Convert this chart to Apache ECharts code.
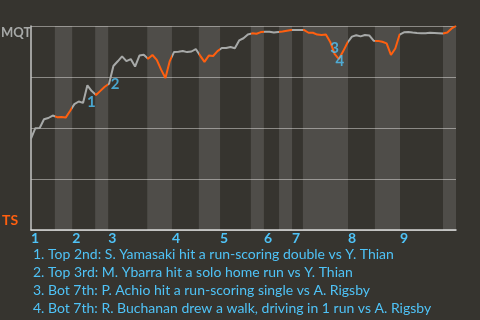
<!DOCTYPE html>
<html><head><meta charset="utf-8">
<script src="https://cdn.jsdelivr.net/npm/echarts@6/dist/echarts.min.js"></script>
<style>html,body{margin:0;padding:0;background:#36342f}#c{width:480px;height:320px}</style>
</head><body><div id="c"></div>
<script>
// Win probability for MQT (%) at each plate appearance
const winProb = [44.8, 49.9, 50.0, 54.3, 54.9, 56.1, 55.3, 55.4, 55.1, 58.3,
  61.7, 63.0, 62.3, 70.9, 68.1, 66.2, 68.2, 70.2, 71.7, 80.4,
  82.7, 85.1, 82.8, 83.8, 80.1, 85.5, 85.9, 84.0, 85.8, 83.4,
  78.6, 74.5, 82.8, 87.3, 87.4, 87.7, 87.2, 87.5, 88.7, 85.5,
  82.4, 85.5, 85.3, 87.7, 89.2, 89.2, 89.7, 89.1, 92.9, 94.0,
  95.8, 96.4, 96.2, 97.0, 97.2, 97.2, 96.8, 97.1, 97.3, 97.7,
  98.0, 98.0, 98.0, 98.0, 96.7, 96.7, 95.8, 95.6, 95.8, 92.2,
  86.3, 83.8, 87.7, 91.9, 94.8, 95.5, 94.9, 95.6, 95.4, 92.8,
  92.7, 92.3, 91.5, 85.8, 89.0, 95.8, 96.9, 97.1, 96.8, 96.6,
  96.5, 96.5, 96.7, 96.6, 96.5, 96.3, 96.8, 98.8, 100];
// Bottom half-innings (TS batting): [start, end] in plate-appearance units
const bottomHalves = [[5.5, 9.5], [14.8, 17.8], [26.8, 32.5], [38.7, 43.6], [50.7, 53.7],
  [57.2, 60.2], [62.7, 73.1], [79.3, 85.1], [95.0, 98]];
// Start of each inning
const inningStarts = [0, 9.5, 17.8, 32.5, 43.6, 53.7, 60.2, 73.1, 85.1];
const inningLabels = ['1', '2', '3', '4', '5', '6', '7', '8', '9'];
// Key events
const eventIndex = [13, 18, 70, 71];
const eventLabels = ['1', '2', '3', '4'];
const eventNotes = [
  '1. Top 2nd: S. Yamasaki hit a run-scoring double vs Y. Thian',
  '2. Top 3rd: M. Ybarra hit a solo home run vs Y. Thian',
  '3. Bot 7th: P. Achio hit a run-scoring single vs A. Rigsby',
  '4. Bot 7th: R. Buchanan drew a walk, driving in 1 run vs A. Rigsby'
];
const awayTeam = 'MQT';
const homeTeam = 'TS';

const ORANGE = '#ff5f0f', GRAY = '#a7a9a8', BLUE = '#4fc3f7';
const FONT = 'Lato';
const labelOffsets = [[4, 17], [6, 0], [0, -6], [1, 2]];

const chart = echarts.init(document.getElementById('c'), null, {renderer: 'canvas'});
const lineData = winProb.map((v, i) => [i, v]);
chart.setOption({
  backgroundColor: '#36342f',
  animation: false,
  title: [
    {text: eventNotes.join('\n'), left: 33, top: 245, padding: 0,
     textStyle: {color: BLUE, fontFamily: FONT, fontSize: 14, fontWeight: 'normal', lineHeight: 18}},
    {text: awayTeam, left: 1, top: 26, padding: 0,
     textStyle: {color: GRAY, fontFamily: FONT, fontSize: 13, fontWeight: 'bold'}},
    {text: homeTeam, left: 2, top: 213, padding: 0,
     textStyle: {color: ORANGE, fontFamily: FONT, fontSize: 14, fontWeight: 'bold'}}
  ],
  grid: {left: 31, right: 24, top: 26, bottom: 90, outerBoundsMode: 'none'},
  xAxis: {
    type: 'value', min: 0, max: winProb.length - 1,
    axisLine: {show: true, lineStyle: {color: '#d6d6d6', width: 1.5}},
    axisTick: {show: false},
    splitLine: {show: false},
    axisLabel: {
      show: true, customValues: inningStarts, align: 'left', margin: 1,
      color: BLUE, fontFamily: FONT, fontSize: 14, fontWeight: 'bold',
      formatter: v => inningLabels[inningStarts.indexOf(v)]
    }
  },
  yAxis: {
    type: 'value', min: 0, max: 100, interval: 25,
    axisLine: {show: true, lineStyle: {color: '#c4c4c4', width: 1.5}},
    axisTick: {show: false}, axisLabel: {show: false},
    splitLine: {show: true, lineStyle: {color: '#8b8985', width: 1}}
  },
  visualMap: {
    show: false, type: 'piecewise', dimension: 0, seriesIndex: 0,
    pieces: bottomHalves.map(b => ({gte: b[0], lte: b[1], color: ORANGE})),
    outOfRange: {color: GRAY}
  },
  series: [
    {
      type: 'line', data: lineData, symbol: 'none', lineStyle: {width: 2},
      z: 3,
      markArea: {
        silent: true,
        itemStyle: {color: 'rgba(255,255,255,0.125)'},
        data: bottomHalves.map(b => [{xAxis: b[0]}, {xAxis: b[1]}])
      }
    },
    {
      type: 'scatter', symbolSize: 0, z: 5,
      data: eventIndex.map((idx, k) => ({
        value: [idx, winProb[idx]],
        label: {show: true, formatter: eventLabels[k], position: 'inside', offset: labelOffsets[k],
                color: BLUE, fontFamily: FONT, fontSize: 15, fontWeight: 'bold'}
      }))
    }
  ]
});
</script></body></html>
